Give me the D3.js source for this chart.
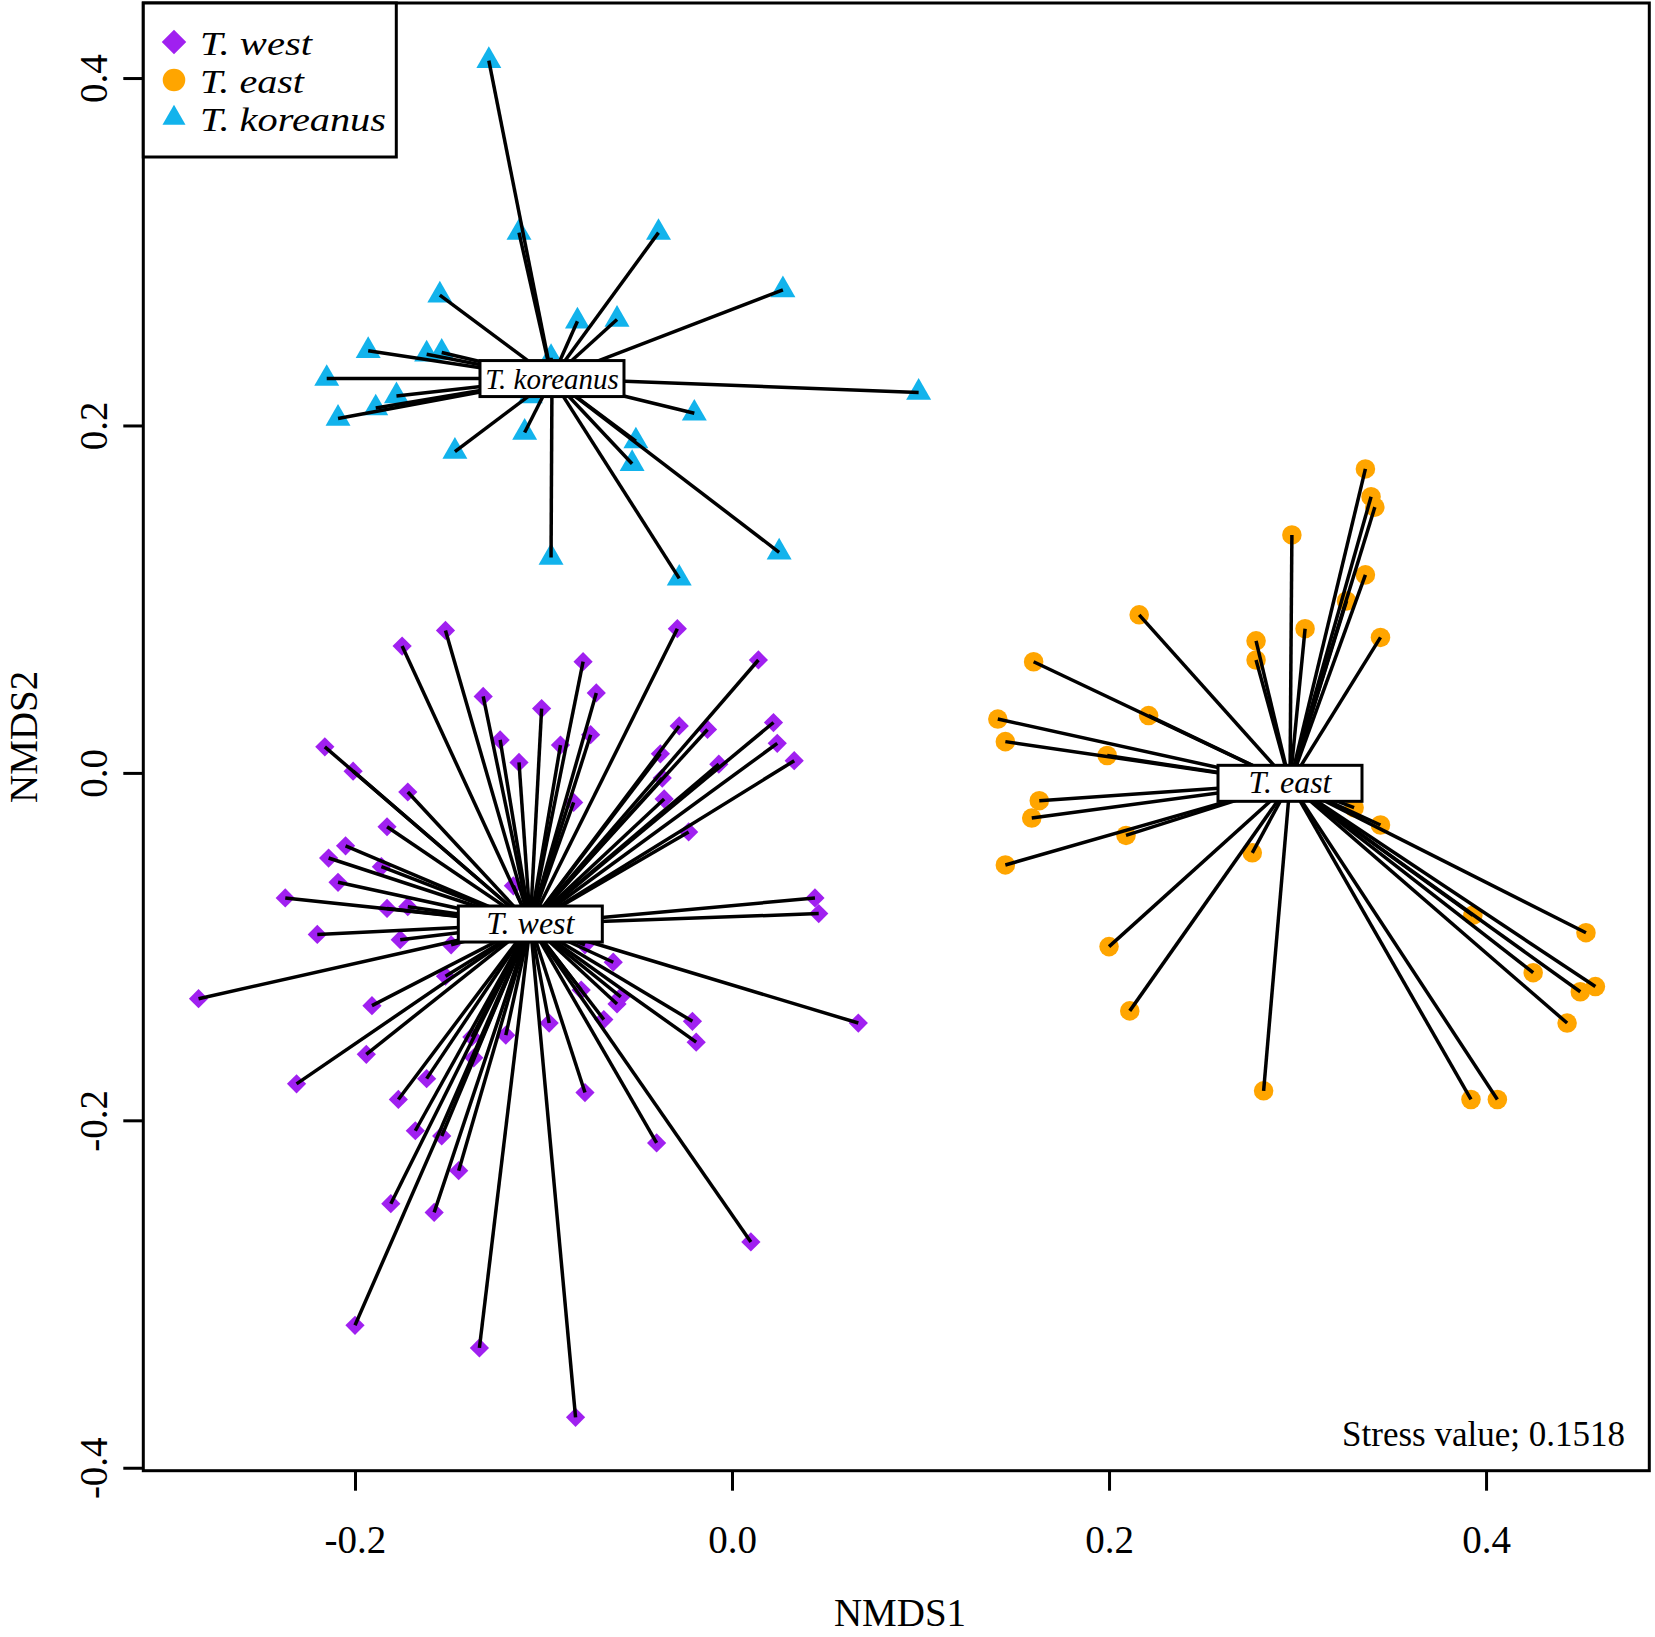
<!DOCTYPE html>
<html lang="en">
<head>
  <meta charset="UTF-8" />
  <title>NMDS</title>
  <script src="https://d3js.org/d3.v7.min.js"></script>
  <style>
    html, body { margin: 0; padding: 0; background: #fff; }
    svg text { font-family: "Liberation Serif", "Times New Roman", serif; fill: #000; }
  </style>
</head>
<body>
  <svg id="chart" width="1655" height="1637"></svg>

  <script>
    // site scores (NMDS1, NMDS2)
    const westPts = [
      [-0.152, 0.082], [-0.175, 0.073], [-0.132, 0.044], [-0.123, 0.019], [-0.216, 0.015],
      [-0.201, 0.001], [-0.172, -0.011], [-0.183, -0.031], [-0.205, -0.042], [-0.214, -0.049],
      [-0.186, -0.054], [-0.209, -0.063], [-0.237, -0.072], [-0.183, -0.078], [-0.172, -0.077],
      [-0.029, 0.083], [-0.079, 0.064], [0.014, 0.065], [-0.072, 0.046], [-0.101, 0.037],
      [-0.091, 0.016], [-0.075, 0.022], [-0.113, 0.006], [-0.028, 0.027], [-0.013, 0.025],
      [0.022, 0.029], [0.024, 0.017], [0.033, 0.007], [-0.038, 0.011], [-0.007, 0.005],
      [-0.037, -0.003], [-0.036, -0.015], [-0.084, -0.017], [-0.023, -0.034], [0.044, -0.072],
      [0.046, -0.081], [-0.220, -0.093], [-0.176, -0.096], [-0.149, -0.099], [-0.283, -0.130],
      [-0.152, -0.117], [-0.191, -0.134], [-0.194, -0.162], [-0.231, -0.179], [-0.162, -0.176],
      [-0.177, -0.188], [-0.168, -0.206], [-0.154, -0.209], [-0.145, -0.229], [-0.181, -0.248],
      [-0.158, -0.253], [-0.137, -0.164], [-0.138, -0.152], [-0.120, -0.151], [-0.078, -0.099],
      [-0.063, -0.109], [-0.080, -0.125], [-0.061, -0.133], [-0.059, -0.129], [-0.068, -0.142],
      [-0.097, -0.144], [-0.021, -0.143], [-0.019, -0.155], [-0.078, -0.184], [-0.040, -0.213],
      [0.067, -0.144], [0.010, -0.270], [-0.200, -0.318], [-0.134, -0.331], [-0.083, -0.371],
      [-0.116, -0.065]
    ];

    const eastPts = [
      [0.336, 0.175], [0.339, 0.159], [0.341, 0.153], [0.297, 0.137], [0.336, 0.114],
      [0.326, 0.099], [0.216, 0.091], [0.304, 0.083], [0.278, 0.076], [0.278, 0.065],
      [0.344, 0.078], [0.160, 0.064], [0.221, 0.033], [0.141, 0.031], [0.145, 0.018],
      [0.199, 0.010], [0.163, -0.016], [0.159, -0.026], [0.209, -0.036], [0.145, -0.053],
      [0.276, -0.046], [0.330, -0.020], [0.344, -0.030], [0.393, -0.082], [0.453, -0.092],
      [0.425, -0.115], [0.450, -0.126], [0.458, -0.123], [0.443, -0.144], [0.392, -0.188],
      [0.406, -0.188], [0.282, -0.183], [0.200, -0.100], [0.211, -0.137]
    ];

    const koreanusPts = [
      [-0.129, 0.410], [-0.113, 0.311], [-0.039, 0.311], [0.027, 0.278], [-0.155, 0.275],
      [-0.082, 0.260], [-0.061, 0.261], [-0.193, 0.243], [-0.162, 0.241], [-0.154, 0.242],
      [-0.215, 0.227], [-0.096, 0.239], [0.099, 0.219], [-0.178, 0.217], [-0.189, 0.210],
      [-0.209, 0.204], [-0.020, 0.207], [-0.110, 0.196], [-0.147, 0.185], [-0.051, 0.191],
      [-0.053, 0.178], [-0.096, 0.124], [0.025, 0.127], [-0.028, 0.112], [-0.107, 0.217]
    ];

    const groupNames = ["T. west", "T. east", "T. koreanus"];
    const groupColors = ["#A020F0", "#FFA500", "#12B3EC"];
    const groupCentroids = [[-0.107, -0.087], [0.296, -0.006], [-0.0955, 0.227]];
    const xTicks = [-0.2, 0.0, 0.2, 0.4];
    const yTicks = [-0.4, -0.2, 0.0, 0.2, 0.4];
    const stressValue = "0.1518";

    const groups = [
      { name: groupNames[0], color: groupColors[0], pts: westPts, c: groupCentroids[0], shape: "diamond", font: 32, legW: 112 },
      { name: groupNames[1], color: groupColors[1], pts: eastPts, c: groupCentroids[1], shape: "circle", font: 32, legW: 104 },
      { name: groupNames[2], color: groupColors[2], pts: koreanusPts, c: groupCentroids[2], shape: "triangle", font: 29, legW: 186 }
    ];

    const svg = d3.select("#chart");
    const plotL = 143.3, plotR = 1649.3, plotT = 3, plotB = 1470.7;

    const x = d3.scaleLinear().domain([-0.3123, 0.4866]).range([plotL, plotR]);
    const y = d3.scaleLinear().domain([-0.4017, 0.4432]).range([plotB, plotT]);

    function symbolPath(shape, big) {
      if (shape === "diamond") return d3.symbol().type(d3.symbolSquare).size(big ? 300 : 185)();
      if (shape === "circle") return d3.symbol().type(d3.symbolCircle).size(big ? 400 : 300)();
      return d3.symbol().type(d3.symbolTriangle).size(big ? 230 : 270)();
    }
    function symbolTransform(shape, px, py) {
      return shape === "diamond" ? `translate(${px},${py}) rotate(45)` : `translate(${px},${py})`;
    }

    // points
    groups.forEach(g => {
      svg.append("g")
        .selectAll("path")
        .data(g.pts)
        .join("path")
        .attr("d", symbolPath(g.shape, false))
        .attr("transform", d => symbolTransform(g.shape, x(d[0]), y(d[1])))
        .attr("fill", g.color);
    });

    // spider lines from the group centroid
    groups.forEach(g => {
      svg.append("g")
        .selectAll("line")
        .data(g.pts)
        .join("line")
        .attr("x1", x(g.c[0]))
        .attr("y1", y(g.c[1]))
        .attr("x2", d => x(d[0]))
        .attr("y2", d => y(d[1]))
        .attr("stroke", "#000")
        .attr("stroke-width", 3.5);
    });

    // centroid labels
    const lab = svg.append("g")
      .selectAll("g")
      .data(groups)
      .join("g")
      .attr("transform", d => `translate(${x(d.c[0])},${y(d.c[1])})`);
    lab.append("rect")
      .attr("x", -72).attr("y", -18)
      .attr("width", 144).attr("height", 36)
      .attr("fill", "#fff").attr("stroke", "#000").attr("stroke-width", 3);
    lab.append("text")
      .attr("text-anchor", "middle")
      .attr("y", 10)
      .attr("font-style", "italic")
      .attr("font-size", d => d.font)
      .text(d => d.name);

    // frame
    svg.append("rect")
      .attr("x", plotL).attr("y", plotT)
      .attr("width", plotR - plotL).attr("height", plotB - plotT)
      .attr("fill", "none").attr("stroke", "#000").attr("stroke-width", 3);

    // axes
    const fmt = d => d.toFixed(1);
    const gx = svg.append("g")
      .attr("transform", `translate(0,${plotB})`)
      .call(d3.axisBottom(x).tickValues(xTicks).tickFormat(fmt).tickSize(20));
    gx.select(".domain").remove();
    gx.selectAll(".tick line").attr("stroke-width", 3);
    gx.selectAll(".tick text")
      .attr("y", 82).attr("dy", null)
      .attr("font-size", 39)
      .attr("font-family", "Liberation Serif, serif");

    const gy = svg.append("g")
      .attr("transform", `translate(${plotL},0)`)
      .call(d3.axisLeft(y).tickValues(yTicks).tickFormat(fmt).tickSize(20));
    gy.select(".domain").remove();
    gy.selectAll(".tick line").attr("stroke-width", 3);
    gy.selectAll(".tick text")
      .attr("x", null).attr("dy", null)
      .attr("text-anchor", "middle")
      .attr("transform", "translate(-36.6,0) rotate(-90)")
      .attr("font-size", 39)
      .attr("font-family", "Liberation Serif, serif");

    svg.append("text")
      .attr("x", 900).attr("y", 1626)
      .attr("text-anchor", "middle")
      .attr("font-size", 39)
      .text("NMDS1");
    svg.append("text")
      .attr("transform", `translate(37,${(plotT + plotB) / 2}) rotate(-90)`)
      .attr("text-anchor", "middle")
      .attr("font-size", 39)
      .text("NMDS2");

    svg.append("text")
      .attr("x", 1625).attr("y", 1446)
      .attr("text-anchor", "end")
      .attr("font-size", 35)
      .text("Stress value; " + stressValue);

    // legend
    const leg = svg.append("g");
    leg.append("rect")
      .attr("x", plotL).attr("y", plotT)
      .attr("width", 253).attr("height", 154)
      .attr("fill", "#fff").attr("stroke", "#000").attr("stroke-width", 3);
    const row = leg.selectAll("g.row")
      .data(groups)
      .join("g")
      .attr("class", "row")
      .attr("transform", (d, i) => `translate(0,${55 + i * 38})`);
    row.append("path")
      .attr("d", d => symbolPath(d.shape, true))
      .attr("transform", d => symbolTransform(d.shape, 174, -13))
      .attr("fill", d => d.color);
    row.append("text")
      .attr("x", 200)
      .attr("font-style", "italic")
      .attr("font-size", 34)
      .attr("textLength", d => d.legW)
      .attr("lengthAdjust", "spacingAndGlyphs")
      .text(d => d.name);
  </script>
</body>
</html>
